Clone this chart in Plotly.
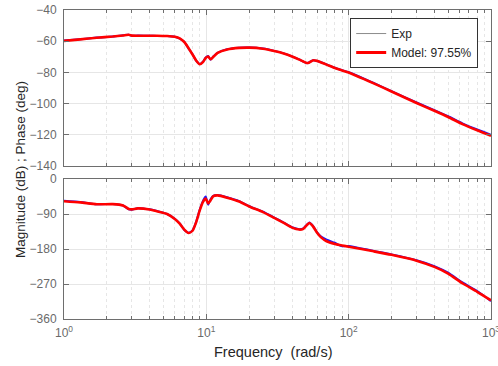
import plotly.graph_objects as go
from plotly.subplots import make_subplots

# Frequency grid (rad/s)
freq = [1.0, 1.3, 1.7, 2.2, 2.6, 2.85, 3.0, 3.3, 4.0, 4.5, 5.3, 6.0, 6.5, 7.0, 7.5,
        8.0, 8.5, 9.0, 9.5, 9.9, 10.3, 10.7, 11.2, 12.0, 14.0, 17.0, 20.0, 25.0,
        30.0, 35.0, 40.0, 45.0, 48.0, 51.0, 53.0, 56.0, 60.0, 64.0, 70.0, 80.0,
        90.0, 100.0, 150.0, 200.0, 300.0, 400.0, 500.0, 630.0, 800.0, 1000.0]

# Magnitude (dB)
mag_model = [-59.8, -58.8, -57.8, -57.0, -56.3, -55.9, -56.4, -56.5, -56.5, -56.5,
             -56.7, -57.2, -58.2, -60.5, -64.5, -68.5, -72.5, -74.8, -73.2, -70.8,
             -69.8, -71.6, -70.0, -67.5, -65.3, -64.3, -64.1, -64.8, -66.3, -67.9,
             -69.8, -71.8, -73.0, -74.0, -73.6, -72.3, -72.6, -73.6, -75.0, -77.2,
             -78.7, -80.0, -87.0, -92.2, -99.6, -104.6, -108.6, -113.1, -117.1, -120.6]
mag_exp = [-59.6, -58.7, -57.7, -57.0, -56.2, -55.8, -56.5, -56.4, -56.5, -56.6,
           -56.7, -57.1, -58.3, -60.4, -64.6, -68.4, -72.6, -74.6, -73.0, -70.4,
           -69.5, -71.9, -69.8, -67.4, -65.2, -64.2, -64.0, -64.7, -66.2, -67.8,
           -69.7, -71.7, -73.1, -74.1, -73.4, -72.2, -72.7, -73.5, -74.9, -77.0,
           -78.6, -79.9, -86.8, -92.0, -99.3, -104.2, -108.1, -112.6, -116.6, -120.0]

# Phase (deg)
ph_model = [-57, -60, -65, -64.5, -68, -77, -78, -75.5, -78.5, -83,
            -90, -103, -115, -130, -139, -133, -110, -80, -58, -50,
            -63, -55, -44, -42, -48, -58, -70.6, -85, -100, -113,
            -125, -130, -128, -118, -113, -121, -138, -150, -160, -167,
            -171, -174, -186, -195, -210, -226, -243, -268, -290, -312]
ph_exp = [-56, -59, -65, -64, -68, -78, -79, -75, -78, -82,
          -90, -102, -114, -131, -138, -132, -109, -78, -55, -45,
          -66, -52, -43, -41, -47, -57, -70, -84, -99, -112,
          -124, -129, -127, -117, -112, -120, -137, -148, -156, -164,
          -173, -172, -185, -194, -209, -224, -241, -266, -288, -314]

model_label = "Model: 97.55%"

fig = make_subplots(rows=2, cols=1, shared_xaxes=False, vertical_spacing=0.042,
                    row_heights=[0.505, 0.453])

# legend-only entries
fig.add_trace(go.Scatter(x=[None], y=[None], mode="lines", name="Exp",
                         line=dict(color="#8c8c8c", width=1)), row=1, col=1)
fig.add_trace(go.Scatter(x=[None], y=[None], mode="lines", name=model_label,
                         line=dict(color="#ff0000", width=3)), row=1, col=1)

for r, (ye, ym) in enumerate([(mag_exp, mag_model), (ph_exp, ph_model)], start=1):
    fig.add_trace(go.Scatter(x=freq, y=ye, mode="lines", showlegend=False,
                             line=dict(color="#1a1aff", width=2, shape="spline", smoothing=0.6)),
                  row=r, col=1)
    fig.add_trace(go.Scatter(x=freq, y=ym, mode="lines", showlegend=False,
                             line=dict(color="#ff0000", width=2.6, shape="spline", smoothing=0.6)),
                  row=r, col=1)

minor_vals = [m * 10 ** d for d in range(3) for m in range(2, 10)]
axis_col = "#6e6e6e"
font_fam = "Liberation Sans, Arial, sans-serif"
tick_font = dict(family=font_fam, size=12, color="#6a6a6a")

xcommon = dict(type="log", range=[0, 3], showline=True, linecolor=axis_col, linewidth=1,
               mirror="allticks", ticks="inside", ticklen=5, tickcolor=axis_col,
               showgrid=True, gridcolor="#e6e6e6", gridwidth=1,
               tickmode="array", tickvals=[1, 10, 100, 1000],
               minor=dict(tickmode="array", tickvals=minor_vals, ticks="inside", ticklen=3,
                          tickcolor=axis_col, showgrid=True, gridcolor="#e6e6e6",
                          griddash="dot", gridwidth=1),
               tickfont=tick_font, zeroline=False, ticklabeloverflow="allow",
               ticklabelstandoff=3, automargin=False)

fig.update_xaxes(**xcommon, ticktext=["", "", "", ""], row=1, col=1)
fig.update_xaxes(**xcommon, ticktext=["10<sup>0</sup>", "10<sup>1</sup>",
                                      "10<sup>2</sup>", "10<sup>3</sup>"], row=2, col=1)

ycommon = dict(showline=True, linecolor=axis_col, linewidth=1, mirror="allticks",
               ticks="inside", ticklen=5, tickcolor=axis_col, showgrid=True,
               gridcolor="#e6e6e6", gridwidth=1, tickfont=tick_font, zeroline=False,
               ticklabelstandoff=4, automargin=False)
fig.update_yaxes(**ycommon, range=[-140, -40], tickmode="array",
                 tickvals=[-140, -120, -100, -80, -60, -40], row=1, col=1)
fig.update_yaxes(**ycommon, range=[-360, 0], tickmode="array",
                 tickvals=[-360, -270, -180, -90, 0], row=2, col=1)

fig.add_annotation(text="Magnitude (dB) ; Phase (deg)", textangle=-90, showarrow=False,
                   xref="paper", yref="paper", x=-0.103, y=0.482,
                   xanchor="center", yanchor="middle",
                   font=dict(family=font_fam, size=13.5, color="#262626"))
fig.add_annotation(text="Frequency\u00a0\u00a0(rad/s)", showarrow=False,
                   xref="paper", yref="paper", x=0.49, y=-0.107,
                   xanchor="center", yanchor="middle",
                   font=dict(family=font_fam, size=14.5, color="#262626"))

fig.update_layout(
    width=498, height=366,
    margin=dict(l=64, r=7, t=10, b=47),
    paper_bgcolor="white", plot_bgcolor="white",
    showlegend=True,
    legend=dict(x=0.970, y=0.974, xanchor="right", yanchor="top",
                bgcolor="white", bordercolor="#333333", borderwidth=1,
                font=dict(family=font_fam, size=12, color="#262626"),
                tracegroupgap=0, itemwidth=30),
)

fig.write_html("out.html")
